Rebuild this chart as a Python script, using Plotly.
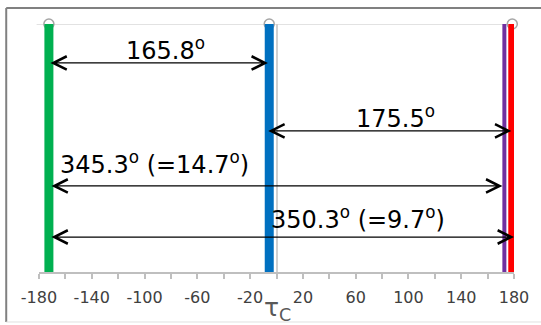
import plotly.graph_objects as go

# Torsion angle positions (degrees) of the four conformers
conf_names = ["green", "blue", "purple", "red"]
conf_tau = [-172.5, -5.5, 172.7, 178.7]
conf_colors = ["#00b050", "#0070c0", "#7030a0", "#ff0000"]
conf_widths = [9, 9, 4, 8]
conf_marker = [True, True, False, True]

# Angular separations drawn as double-headed arrows
arrow_start = [-172.5, -7.4, -171.7, -171.7]
arrow_end = [-6.5, 178.0, 171.2, 180.0]
arrow_level = [0.843, 0.569, 0.347, 0.141]
arrow_text = ["165.8<sup>o</sup>", "175.5<sup>o</sup>",
              "345.3<sup>o</sup> (=14.7<sup>o</sup>)", "350.3<sup>o</sup> (=9.7<sup>o</sup>)"]
label_x = [-84.3, 90.5, -92.5, 61.9]
label_y = [0.899, 0.625, 0.44, 0.218]

tick_vals = list(range(-180, 181, 40))
tick_text = [str(v) for v in tick_vals]

FONT = "DejaVu Sans"

fig = go.Figure()

# open circle caps at the top of the lines (drawn first so the lines cover them)
for t, m in zip(conf_tau, conf_marker):
    if m:
        fig.add_trace(go.Scatter(
            x=[t], y=[1], mode="markers", cliponaxis=False,
            marker=dict(symbol="circle", size=10, color="white",
                        line=dict(width=1.5, color="#a6a6a6")),
            hoverinfo="skip", showlegend=False))

for name, t, c, w in zip(conf_names, conf_tau, conf_colors, conf_widths):
    fig.add_trace(go.Scatter(
        x=[t, t], y=[0, 1], mode="lines", name=name, cliponaxis=False,
        line=dict(color=c, width=w), showlegend=False))

for xs, xe, yl in zip(arrow_start, arrow_end, arrow_level):
    fig.add_annotation(
        x=xe, y=yl, ax=xs, ay=yl, xref="x", yref="y", axref="x", ayref="y",
        text="", showarrow=True, arrowhead=5, startarrowhead=5,
        arrowside="end+start", arrowsize=2.2, startarrowsize=2.2,
        arrowwidth=1.2, arrowcolor="black", standoff=0, startstandoff=0)

for txt, lx, ly in zip(arrow_text, label_x, label_y):
    fig.add_annotation(
        x=lx, y=ly, xref="x", yref="y", text=txt, showarrow=False,
        font=dict(family=FONT, size=24, color="black"),
        xanchor="center", yanchor="middle")

# axis title
fig.add_annotation(
    x=1, y=-0.148, xref="x", yref="paper", text="τ<sub>C</sub>", showarrow=False,
    font=dict(family=FONT, size=25, color="#595959"), xanchor="center", yanchor="middle")

# top gridline
fig.add_shape(type="line", xref="paper", yref="y", x0=-0.005, x1=1.0, y0=1, y1=1,
              line=dict(color="#d9d9d9", width=1.5), layer="below")

# chart frame
fig.add_shape(type="line", xref="paper", yref="paper", x0=-0.069, x1=1.1, y0=1.0645, y1=1.0645,
              line=dict(color="#808080", width=2))
fig.add_shape(type="line", xref="paper", yref="paper", x0=-0.069, x1=-0.069, y0=1.0645, y1=-0.2016,
              line=dict(color="#808080", width=2))
fig.add_shape(type="line", xref="paper", yref="paper", x0=-0.069, x1=1.1, y0=-0.2016, y1=-0.2016,
              line=dict(color="#e0e0e0", width=1))

fig.update_xaxes(
    range=[-180, 180], tickvals=tick_vals, ticktext=tick_text,
    ticks="outside", ticklen=5, tickcolor="#bfbfbf", tickwidth=1.5,
    minor=dict(ticks="outside", dtick=20, tick0=-180, ticklen=5, tickcolor="#bfbfbf", tickwidth=1.5),
    showline=True, linecolor="#bfbfbf", linewidth=1.5,
    zeroline=True, zerolinecolor="#d0d0d0", zerolinewidth=2,
    showgrid=False, ticklabelstandoff=5,
    tickfont=dict(family=FONT, size=16, color="#404040"))
fig.update_yaxes(range=[0, 1], visible=False, showgrid=False)

fig.update_layout(
    width=541, height=325,
    margin=dict(l=39, r=24, t=24, b=53),
    plot_bgcolor="white", paper_bgcolor="white")

fig.write_html("out.html")
